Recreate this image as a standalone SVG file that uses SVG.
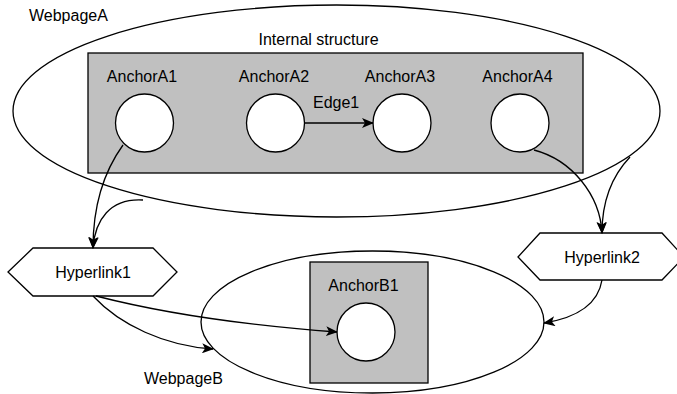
<svg xmlns="http://www.w3.org/2000/svg" width="677" height="394" viewBox="0 0 677 394">
<defs>
<style>
text{font-family:"Liberation Sans",Arial,sans-serif;font-size:16px;fill:#000}
.c{text-anchor:middle}
.shape{fill:#fff;stroke:#000;stroke-width:1.3}
.box{fill:#c0c0c0;stroke:#000;stroke-width:1.3}
.edge{fill:none;stroke:#000;stroke-width:1.3;marker-end:url(#arr)}
</style>
<marker id="arr" viewBox="0 0 12 10" refX="11" refY="5" markerWidth="12" markerHeight="10" markerUnits="userSpaceOnUse" orient="auto">
<path d="M0,0 L12,5 L0,10 L3,5 Z" fill="#000"/>
</marker>
</defs>
<rect width="677" height="394" fill="#fff"/>
<g id="WebpageA">
<ellipse class="shape" cx="336.5" cy="111" rx="323.5" ry="106"/>
<text x="29" y="21">WebpageA</text>
</g>
<g id="InternalStructure">
<rect class="box" x="88" y="53" width="495" height="120"/>
<text class="c" x="318.5" y="45">Internal structure</text>
</g>
<g id="AnchorA1">
<circle class="shape" cx="144.5" cy="123" r="29"/>
<text class="c" x="142" y="82">AnchorA1</text>
</g>
<g id="AnchorA2">
<circle class="shape" cx="275.5" cy="123" r="29"/>
<text class="c" x="274" y="82">AnchorA2</text>
</g>
<g id="AnchorA3">
<circle class="shape" cx="402" cy="123" r="29"/>
<text class="c" x="400" y="82">AnchorA3</text>
</g>
<g id="AnchorA4">
<circle class="shape" cx="520" cy="123" r="29"/>
<text class="c" x="517.5" y="82">AnchorA4</text>
</g>
<g id="Hyperlink1">
<polygon class="shape" points="8,272 33,248 153,248 177,272 153,296 33,296"/>
<text class="c" x="93" y="278">Hyperlink1</text>
</g>
<g id="Hyperlink2">
<polygon class="shape" points="518,257 540,233 662,233 684,257 662,280 540,280"/>
<text class="c" x="602" y="263">Hyperlink2</text>
</g>
<g id="WebpageB">
<ellipse class="shape" cx="372.5" cy="322" rx="171.5" ry="71"/>
<text x="144" y="384">WebpageB</text>
</g>
<g id="AnchorB1Box">
<rect class="box" x="310" y="262" width="118" height="121"/>
<text class="c" x="363.5" y="291">AnchorB1</text>
</g>
<g id="AnchorB1">
<circle class="shape" cx="366" cy="332" r="29"/>
</g>
<g id="connectors">
<path class="edge" d="M304.5,123 L373,123"/>
<text x="313" y="108">Edge1</text>
<path class="edge" d="M123,145 C105,170 93,205 93,248"/>
<path class="edge" d="M143,200 C110,198 95,220 93,248"/>
<path class="edge" d="M534,150 C572,160 600,195 602,233"/>
<path class="edge" d="M630,157 C610,178 602,205 602,233"/>
<path class="edge" d="M93,296 C120,325 165,346 213,349"/>
<path class="edge" d="M96,296 C170,315 255,326 337,332"/>
<path class="edge" d="M602,280 C598,305 575,318 544,323"/>
</g>
</svg>
